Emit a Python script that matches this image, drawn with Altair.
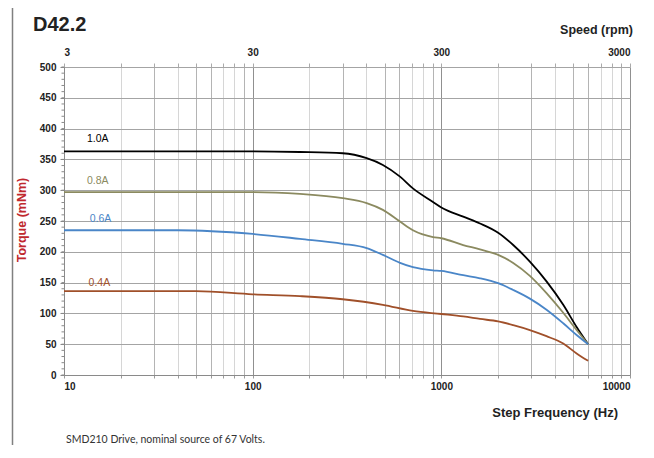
import altair as alt
import pandas as pd

# ---------------- data ----------------
series_names = ["1.0A", "0.8A", "0.6A", "0.4A"]

freq_10 = [10, 50, 100, 178, 300, 402, 490, 604, 707, 903, 1000, 1306, 1603, 2000, 2404, 2946, 3610, 4427, 5212, 6000]
torque_10 = [363, 363, 363, 362, 360, 352, 341, 322, 303, 281, 272, 257, 246, 231, 211, 184, 152, 114, 78, 50]

freq_08 = [10, 50, 100, 178, 300, 402, 490, 604, 707, 903, 1000, 1306, 1603, 2000, 2404, 2946, 3610, 4427, 5212, 6000]
torque_08 = [297, 297, 297, 294, 287, 279, 268, 249, 235, 224, 222, 211, 204, 195, 182, 161, 133, 101, 73, 50]

freq_06 = [10, 40, 100, 178, 300, 402, 490, 604, 707, 903, 1000, 1306, 1603, 2000, 2404, 2946, 3610, 4427, 5212, 6000]
torque_06 = [235, 235, 229, 221, 213, 206, 195, 182, 175, 170, 169, 162, 157, 149, 138, 124, 106, 84, 65, 50]

freq_04 = [10, 50, 100, 178, 300, 490, 707, 1000, 1306, 1603, 2000, 2404, 2946, 3610, 4427, 5212, 6000]
torque_04 = [136, 136, 131, 128, 123, 114, 104, 99, 95, 91, 87, 81, 73, 63, 51, 35, 23]

label_freq = [15.1, 15.1, 15.6, 15.4]
label_torque = [383, 315, 253, 150]

line_colors = ["#000000", "#8b8a60", "#4a86c8", "#a0502a"]
label_colors = ["#222222", "#8b8a60", "#3d96b8", "#a0502a"]

x_ticks = [10, 20, 30, 40, 50, 60, 70, 80, 90,
           100, 200, 300, 400, 500, 600, 700, 800, 900,
           1000, 2000, 3000, 4000, 5000, 6000, 7000, 8000, 9000, 10000]
decades = [10, 100, 1000, 10000]
light_grid = [20, 40, 70, 80, 200, 400, 700, 800, 2000, 4000, 7000, 8000]
y_ticks = list(range(0, 501, 50))
y_minor = list(range(0, 501, 10))

# ---------------- frames ----------------
rows = []
for name, fs, ts in zip(series_names, [freq_10, freq_08, freq_06, freq_04],
                        [torque_10, torque_08, torque_06, torque_04]):
    for f, t in zip(fs, ts):
        rows.append({"series": name, "freq": f, "torque": t})
df = pd.DataFrame(rows)

lab_df = pd.DataFrame({"series": series_names, "freq": label_freq, "torque": label_torque})

x_scale = alt.Scale(type="log", domain=[10, 10000], nice=False)
y_scale = alt.Scale(domain=[0, 500], nice=False)

dec_test = "indexof(" + str(decades) + ", datum.value) >= 0"
light_test = "indexof(" + str(light_grid) + ", datum.value) >= 0"

FONT = "Arial, Liberation Sans, sans-serif"

lines = alt.Chart(df).mark_line(strokeWidth=1.8, interpolate="monotone").encode(
    x=alt.X("freq:Q", scale=x_scale, axis=alt.Axis(
        orient="bottom", values=x_ticks, title=None,
        labelExpr=dec_test + " ? format(datum.value, 'd') : ''",
        labelFontWeight="bold", labelFontSize=10, labelColor="#222222", labelFont=FONT,
        labelOverlap=False, labelPadding=3,
        tickSize=3, tickColor="#9a9a9a", domainColor="#8a8a8a",
        grid=True,
        gridColor={"condition": {"test": dec_test, "value": "#909090"},
                   "value": "#b4b4b4"},
        gridOpacity={"condition": {"test": light_test, "value": 0.55}, "value": 1},
    )),
    y=alt.Y("torque:Q", scale=y_scale, axis=alt.Axis(
        orient="left", values=y_ticks, title=None,
        labelFontWeight="bold", labelFontSize=10, labelColor="#222222", labelFont=FONT,
        labelPadding=4, tickSize=4, tickColor="#888888", domainColor="#8a8a8a",
        grid=True, gridColor="#a4a4a4",
    )),
    color=alt.Color("series:N", scale=alt.Scale(domain=series_names, range=line_colors), legend=None),
)

labels = alt.Chart(lab_df).mark_text(fontSize=10.5, font=FONT, align="center", baseline="middle").encode(
    x=alt.X("freq:Q", scale=x_scale, axis=alt.Axis(
        orient="top", values=x_ticks, title=None,
        labelExpr=dec_test + " ? format(datum.value * 0.3, 'd') : ''",
        labelFontWeight="bold", labelFontSize=10, labelColor="#222222", labelFont=FONT,
        labelOverlap=False, labelPadding=6,
        tickSize=4, tickColor="#aaaaaa", domain=False, grid=False,
    )),
    y=alt.Y("torque:Q", scale=y_scale, axis=None),
    text="series:N",
    color=alt.Color("series:N", scale=alt.Scale(domain=series_names, range=label_colors), legend=None),
)

minor = alt.Chart(pd.DataFrame({"v": y_minor})).mark_rule(color="#8a8a8a", strokeWidth=1).encode(
    y=alt.Y("v:Q", scale=y_scale, axis=None),
    x=alt.value(-2.5),
    x2=alt.value(0),
)

one = pd.DataFrame({"a": [0]})

frame_top = alt.Chart(one).mark_rule(color="#808080", strokeWidth=1.5).encode(
    x=alt.value(-51.5), x2=alt.value(590), y=alt.value(-61.5))
frame_left = alt.Chart(one).mark_rule(color="#808080", strokeWidth=1.5).encode(
    x=alt.value(-51.5), y=alt.value(-61.5), y2=alt.value(400))

def txt(s, x, y, size, weight="normal", color="#222222", align="left", font=FONT, angle=0):
    m = alt.Chart(one).mark_text(fontSize=size, fontWeight=weight, color=color,
                                 align=align, baseline="middle", font=font, angle=angle)
    return m.encode(x=alt.value(x), y=alt.value(y), text=alt.value(s))

title = txt("D42.2", -31, -42.5, 20, "bold", "#222222")
speed = txt("Speed (rpm)", 569, -37, 12.5, "bold", "#222222", "right")
stepf = txt("Step Frequency (Hz)", 554, 345.5, 13, "bold", "#222222", "right")
torque_t = txt("Torque (mNm)", -42, 153, 12.5, "bold", "#c0282e", "center", angle=270)
foot = txt("SMD210  Drive, nominal source of 67 Volts.", 2, 373, 10.5, "normal", "#333333", "left", font="Lato")

chart = alt.layer(
    lines, labels, minor, frame_top, frame_left, title, speed, stepf, torque_t, foot
).resolve_axis(x="independent", y="independent").properties(
    width=566, height=308,
    autosize=alt.AutoSizeParams(type="none"),
    padding={"left": 56, "top": 59, "right": 16, "bottom": 70},
    background="white",
).configure_view(stroke=None)

chart.save("out.html", embed_options={"renderer": "svg", "actions": False})
